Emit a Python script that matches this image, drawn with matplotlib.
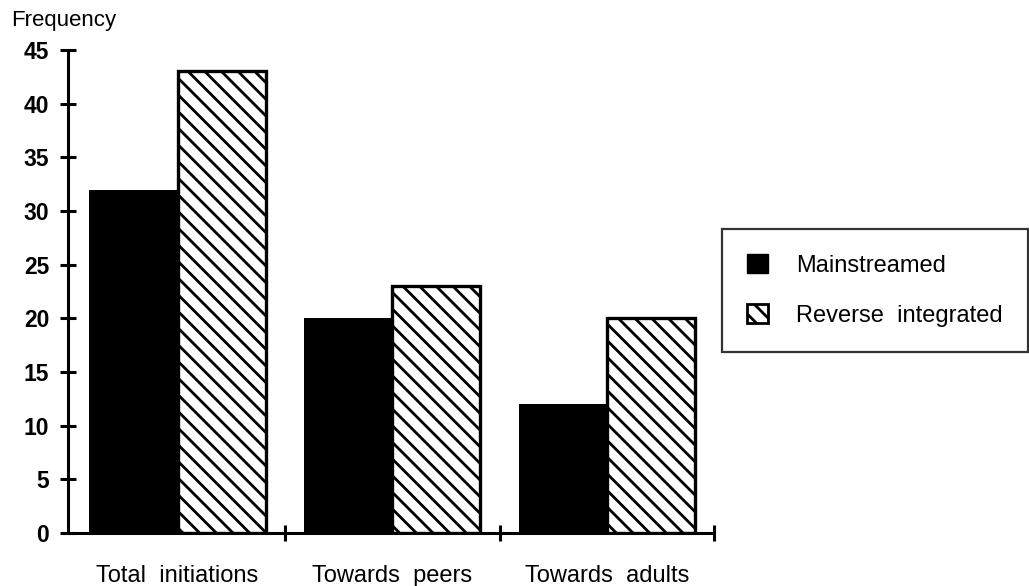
import matplotlib
matplotlib.use("Agg")
import matplotlib.pyplot as plt
import matplotlib.patches as mpatches
import numpy as np

categories = ["Total  initiations", "Towards  peers", "Towards  adults"]
mainstreamed = [32, 20, 12]
reverse_integrated = [43, 23, 20]
series_labels = ["Mainstreamed", "Reverse  integrated"]
y_ticks = [0, 5, 10, 15, 20, 25, 30, 35, 40, 45]

plt.rcParams["font.family"] = ["Liberation Sans", "DejaVu Sans"]
plt.rcParams["hatch.linewidth"] = 2.0
plt.rcParams["hatch.color"] = "black"

fig = plt.figure(figsize=(10.29, 5.86), dpi=100)
ax = fig.add_axes([0.0661, 0.0904, 0.628, 0.8243])

x = np.arange(len(categories))
w = 0.41
ax.bar(x - w / 2, mainstreamed, width=w, color="black", edgecolor="black",
       linewidth=0)
ax.bar(x + w / 2, reverse_integrated, width=w, color="white", edgecolor="black",
       hatch="\\\\", linewidth=2.4)

ax.set_xlim(-0.51, 2.5)
ax.set_ylim(0, 45)
ax.spines["top"].set_visible(False)
ax.spines["right"].set_visible(False)
for s in ("left", "bottom"):
    ax.spines[s].set_linewidth(2.2)

ax.set_yticks(y_ticks)
ax.set_yticklabels([str(v) for v in y_ticks], fontsize=16.5, fontweight="bold")
ax.tick_params(axis="y", direction="inout", length=11, width=2.2, pad=8)

# group boundary ticks on the x axis, labels centered between them
ax.set_xticks([0.5, 1.5, 2.5])
ax.set_xticklabels([])
ax.tick_params(axis="x", direction="inout", length=12, width=2.2)
for xi, lab in zip(x, categories):
    ax.text(xi, -3.0, lab, ha="center", va="top", fontsize=17)

fig.text(0.011, 0.947, "Frequency", fontsize=16, ha="left", va="bottom")

handles = [
    mpatches.Patch(facecolor="black", edgecolor="black", label=series_labels[0]),
    mpatches.Patch(facecolor="white", edgecolor="black", hatch="\\\\",
                   linewidth=2, label=series_labels[1]),
]
leg = fig.legend(handles=handles, loc="upper left",
                 bbox_to_anchor=(722 / 1029, 1 - 229 / 586), fontsize=17,
                 frameon=True, fancybox=False, edgecolor="black",
                 handlelength=0.9, handleheight=0.9, labelspacing=1.15,
                 borderpad=1.05, borderaxespad=0, handletextpad=1.2)
leg.get_frame().set_linewidth(1.6)

fig.savefig("out.png", dpi=100)
